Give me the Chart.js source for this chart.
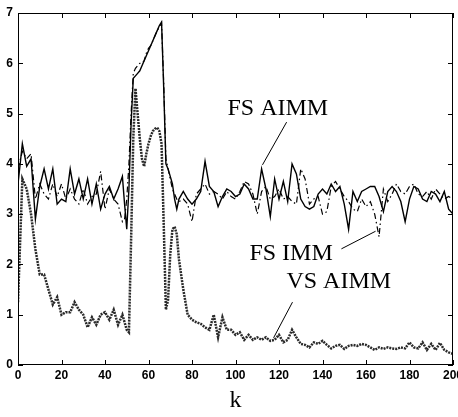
<!DOCTYPE html>
<html>
<head>
<meta charset="utf-8">
<script src="https://cdn.jsdelivr.net/npm/chart.js@4.4.1/dist/chart.umd.min.js"></script>
<style>
    html, body { margin: 0; padding: 0; background: #fff; }
    #wrap { width: 458px; height: 417px; }
</style>
</head>
<body>
<div id="wrap"><canvas id="chart" width="458" height="417"></canvas></div>
<script>
// time index k (step 1 around the spike, step 2 elsewhere)
const kValues = [
    0, 2, 4, 6, 8, 10, 12, 14, 16, 18, 20, 22, 24, 26, 28, 30, 32, 34, 36, 38, 40, 42, 44, 46, 48,
    49, 50, 51, 52, 53, 54, 55, 56, 57, 58, 59, 60, 61, 62, 63, 64, 65, 66, 67, 68, 69, 70, 71, 72, 73, 74,
    76, 78, 80, 82, 84, 86, 88, 90, 92, 94, 96, 98, 100, 102, 104, 106, 108, 110, 112, 114, 116, 118, 120,
    122, 124, 126, 128, 130, 132, 134, 136, 138, 140, 142, 144, 146, 148, 150, 152, 154, 156, 158, 160,
    162, 164, 166, 168, 170, 172, 174, 176, 178, 180, 182, 184, 186, 188, 190, 192, 194, 196, 198, 200
];

const fsAimm = [
    3.6, 4.4, 3.95, 4.1, 2.9, 3.55, 3.9, 3.5, 3.9, 3.2, 3.3, 3.25, 3.9, 3.4, 3.7, 3.3, 3.7, 3.2, 3.6, 3.1, 3.4, 3.55, 3.3, 3.5, 3.75,
    3.2, 2.7, 3.5, 4.8, 5.7, 5.75, 5.8, 5.85, 5.95, 6.05, 6.15, 6.25, 6.35, 6.45, 6.55, 6.65, 6.75, 6.82, 5.5, 4.0, 3.9, 3.75, 3.6, 3.3, 3.1, 3.3,
    3.45, 3.3, 3.2, 3.3, 3.45, 4.05, 3.55, 3.45, 3.15, 3.35, 3.5, 3.45, 3.35, 3.4, 3.6, 3.5, 3.3, 3.3, 3.9, 3.5, 2.95, 3.7, 3.3,
    3.65, 3.25, 4.0, 3.8, 3.3, 3.15, 3.1, 3.15, 3.4, 3.5, 3.4, 3.6, 3.45, 3.55, 3.2, 2.7, 3.45, 3.25, 3.45, 3.5,
    3.55, 3.55, 3.35, 3.05, 3.45, 3.55, 3.45, 3.25, 2.85, 3.3, 3.55, 3.5, 3.3, 3.25, 3.45, 3.4, 3.25, 3.45, 3.1, 3.0
];

const fsImm = [
    3.9, 4.25, 4.1, 4.2, 3.3, 3.6, 3.4, 3.3, 3.6, 3.35, 3.6, 3.3, 3.5, 3.3, 3.2, 3.5, 3.2, 3.35, 3.4, 3.85, 3.1, 3.5, 3.3, 3.2, 2.85,
    2.9, 3.3, 4.0, 5.0, 5.8, 5.9, 5.95, 6.0, 6.0, 6.05, 6.2, 6.3, 6.35, 6.45, 6.55, 6.65, 6.72, 6.8, 5.6, 4.1, 3.9, 3.7, 3.5, 3.4, 3.3, 3.25,
    3.3, 3.2, 2.85, 3.4, 3.5, 3.6, 3.4, 3.45, 3.4, 3.3, 3.45, 3.35, 3.3, 3.45, 3.65, 3.6, 3.4, 3.0, 3.45, 3.55, 3.3, 3.35, 3.5,
    3.3, 3.35, 3.25, 3.2, 3.9, 3.7, 3.2, 3.3, 3.35, 3.0, 3.05, 3.55, 3.65, 3.5, 3.35, 3.25, 3.1, 3.05, 3.3, 3.15,
    3.25, 3.0, 2.55, 3.5, 3.25, 3.4, 3.6, 3.45, 3.4, 3.55, 3.6, 3.4, 3.35, 3.45, 3.3, 3.5, 3.4, 3.3, 3.35, 3.3
];

const vsAimm = [
    1.25, 3.7, 3.5, 3.0, 2.3, 1.8, 1.8, 1.5, 1.2, 1.35, 1.0, 1.05, 1.05, 1.25, 1.1, 1.0, 0.75, 0.95, 0.8, 1.0, 1.05, 0.9, 1.1, 0.8, 1.0,
    0.85, 0.7, 0.65, 2.5, 4.5, 5.5, 5.0, 4.5, 4.1, 3.95, 4.2, 4.4, 4.55, 4.65, 4.7, 4.72, 4.65, 4.4, 2.8, 1.1, 1.3, 2.2, 2.7, 2.75, 2.6, 2.1,
    1.5, 1.0, 0.9, 0.85, 0.82, 0.75, 0.7, 1.0, 0.55, 0.95, 0.7, 0.7, 0.6, 0.65, 0.5, 0.6, 0.5, 0.55, 0.5, 0.55, 0.48, 0.5, 0.6,
    0.45, 0.5, 0.7, 0.55, 0.42, 0.4, 0.35, 0.45, 0.42, 0.48, 0.4, 0.33, 0.38, 0.4, 0.32, 0.38, 0.4, 0.38, 0.42, 0.4,
    0.35, 0.3, 0.35, 0.32, 0.35, 0.33, 0.32, 0.35, 0.33, 0.45, 0.35, 0.33, 0.45, 0.3, 0.42, 0.3, 0.44, 0.3, 0.25, 0.22
];

const xTicks = [0, 20, 40, 60, 80, 100, 120, 140, 160, 180, 200];
const yTicks = [0, 1, 2, 3, 4, 5, 6, 7];

// text labels with leader lines, anchored in data units
const callouts = [
    { text: 'FS AIMM', at: [96.3, 4.97], from: [123.5, 4.83], to: [112.4, 3.98] },
    { text: 'FS IMM', at: [106.4, 2.09], from: [148.7, 2.31], to: [164.4, 2.66] },
    { text: 'VS AIMM', at: [123.4, 1.53], from: [126.2, 1.25], to: [117.5, 0.54] }
];

function toPoints(series) {
    return kValues.map((k, i) => ({ x: k, y: series[i] }));
}

const framePlugin = {
    id: 'frame',
    afterDatasetsDraw(chart) {
        const { ctx, chartArea: a, scales } = chart;
        const tl = 5;
        ctx.save();
        ctx.strokeStyle = '#000';
        ctx.lineWidth = 1;
        ctx.strokeRect(a.left + 0.5, a.top + 0.5, a.right - a.left - 1, a.bottom - a.top - 1);
        ctx.beginPath();
        xTicks.forEach(v => {
            const px = Math.round(scales.x.getPixelForValue(v)) + 0.5;
            ctx.moveTo(px, a.bottom);
            ctx.lineTo(px, a.bottom - tl);
            ctx.moveTo(px, a.top);
            ctx.lineTo(px, a.top + tl);
        });
        yTicks.forEach(v => {
            const py = Math.round(scales.y.getPixelForValue(v)) + 0.5;
            ctx.moveTo(a.left, py);
            ctx.lineTo(a.left + tl, py);
            ctx.moveTo(a.right, py);
            ctx.lineTo(a.right - tl, py);
        });
        ctx.stroke();

        ctx.font = '24px "Liberation Serif", "Times New Roman", serif';
        ctx.fillStyle = '#000';
        ctx.textBaseline = 'alphabetic';
        ctx.textAlign = 'left';
        callouts.forEach(c => {
            ctx.fillText(c.text, scales.x.getPixelForValue(c.at[0]), scales.y.getPixelForValue(c.at[1]));
            ctx.beginPath();
            ctx.moveTo(scales.x.getPixelForValue(c.from[0]), scales.y.getPixelForValue(c.from[1]));
            ctx.lineTo(scales.x.getPixelForValue(c.to[0]), scales.y.getPixelForValue(c.to[1]));
            ctx.stroke();
        });
        ctx.restore();
    }
};

document.addEventListener('DOMContentLoaded', () => {
    const ctx = document.getElementById('chart').getContext('2d');
    const tickFont = { family: '"Liberation Sans", Arial, sans-serif', size: 12, weight: 'bold' };

    new Chart(ctx, {
        type: 'line',
        data: {
            datasets: [
                {
                    label: 'VS AIMM',
                    data: toPoints(vsAimm),
                    borderColor: '#2a2a2a',
                    borderWidth: 2.5,
                    borderDash: [2, 1],
                    pointRadius: 0,
                    tension: 0
                },
                {
                    label: 'FS IMM',
                    data: toPoints(fsImm),
                    borderColor: '#000',
                    borderWidth: 1.2,
                    borderDash: [6, 3, 1.5, 3],
                    pointRadius: 0,
                    tension: 0
                },
                {
                    label: 'FS AIMM',
                    data: toPoints(fsAimm),
                    borderColor: '#000',
                    borderWidth: 1.4,
                    pointRadius: 0,
                    tension: 0
                }
            ]
        },
        options: {
            responsive: false,
            animation: false,
            events: [],
            layout: { padding: { top: 13, right: 5, left: 0, bottom: 0 } },
            plugins: {
                legend: { display: false },
                tooltip: { enabled: false }
            },
            scales: {
                x: {
                    type: 'linear',
                    min: 0,
                    max: 200,
                    grid: { display: false, drawTicks: false },
                    border: { display: false },
                    ticks: { stepSize: 20, color: '#000', font: tickFont, padding: 3, maxRotation: 0 },
                    title: {
                        display: true,
                        text: 'k',
                        color: '#000',
                        font: { family: '"Liberation Serif", "Times New Roman", serif', size: 24 },
                        padding: { top: 0, bottom: 2 }
                    },
                    afterFit(scale) {
                        scale.height = 52;
                        scale.paddingLeft = 0;
                        scale.paddingRight = 0;
                    }
                },
                y: {
                    min: 0,
                    max: 7,
                    grid: { display: false, drawTicks: false },
                    border: { display: false },
                    ticks: { stepSize: 1, color: '#000', font: tickFont, padding: 5 },
                    afterFit(scale) {
                        scale.width = 18;
                        scale.paddingTop = 0;
                        scale.paddingBottom = 0;
                    }
                }
            }
        },
        plugins: [framePlugin]
    });
});
</script>
</body>
</html>
